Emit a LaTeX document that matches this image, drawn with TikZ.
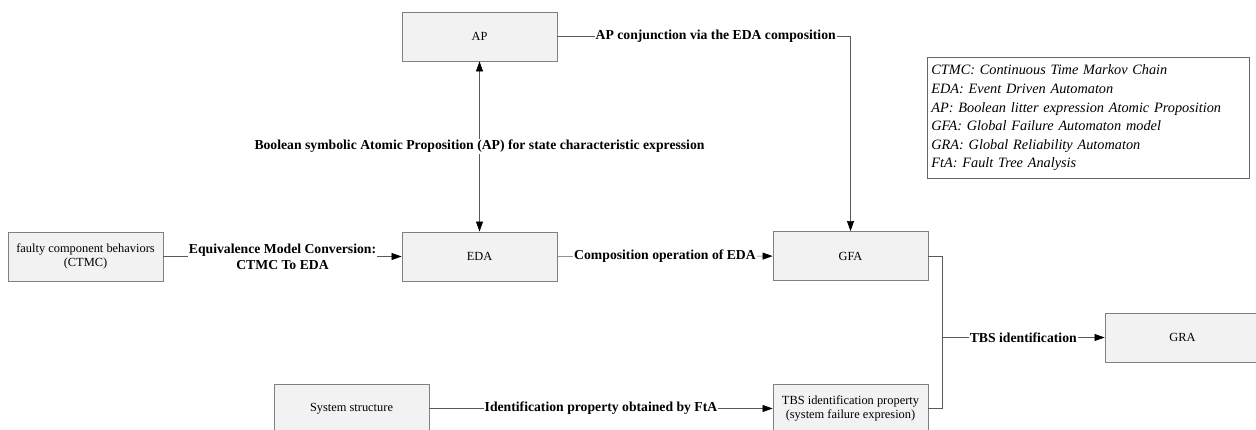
\documentclass[tikz,border=0pt]{standalone}
\usepackage{fontspec}
\setmainfont{Liberation Serif}
\usetikzlibrary{arrows.meta}
\tikzset{
  blk/.style={draw=black!50,fill=black!5,line width=.9pt,minimum width=155pt,minimum height=49pt,align=center,inner sep=2pt,font=\fontsize{12.4}{14.5}\selectfont},
  lbl/.style={fill=white,inner sep=1pt,align=center,font=\bfseries\fontsize{13.7}{16}\selectfont},
  con/.style={draw=black!65,line width=.6pt},
  arr/.style={con,-{Triangle[length=10pt,width=7pt,color=black]}},
  dblarr/.style={con,{Triangle[length=10pt,width=7pt,color=black]}-{Triangle[length=10pt,width=7pt,color=black]}}
}
\begin{document}
\begin{tikzpicture}[x=1pt,y=-1pt]
        \useasboundingbox (0,0) rectangle (1256,430);
        \node[blk] (ap) at (479.5,36.5) {AP};
        \node[blk] (ctmc) at (85.5,256.5) {faulty component behaviors\\(CTMC)};
        \node[blk] (eda) at (479.5,256.5) {EDA};
        \node[blk] (gfa) at (850.5,256) {GFA};
        \node[blk] (gra) at (1182.5,337.5) {GRA};
        \node[blk] (sys) at (351.5,408.5) {System structure};
        \node[blk] (tbs) at (850.5,408.5) {TBS identification property\\(system failure expresion)};
        \node[draw=black!60,line width=.8pt,anchor=north west,minimum width=322pt,minimum height=121pt,inner xsep=4pt,text width=314pt,align=left,font=\itshape\fontsize{14.3}{18.6}\selectfont] (leg) at (927,57) {CTMC: Continuous Time Markov Chain\\EDA: Event Driven Automaton\\AP: Boolean litter expression Atomic Proposition\\GFA: Global Failure Automaton model\\GRA: Global Reliability Automaton\\FtA: Fault Tree Analysis};
        \coordinate (jn) at (942,337.5);
        \draw[dblarr] (ap) -- node[lbl]{Boolean symbolic Atomic Proposition (AP) for state characteristic expression} (eda);
        \draw[arr] (ap) -| node[lbl,pos=.27]{AP conjunction via the EDA composition} (gfa);
        \draw[arr] (ctmc) -- node[lbl]{Equivalence Model Conversion:\\CTMC To EDA} (eda);
        \draw[arr] (eda) -- node[lbl]{Composition operation of EDA} (gfa);
        \draw[arr] (sys) -- node[lbl]{Identification property obtained by FtA} (tbs);
        \draw[con] (gfa.east) -| (jn) |- (tbs.east);
        \draw[arr] (jn) -- node[lbl]{TBS identification} (gra);
\end{tikzpicture}
\end{document}
